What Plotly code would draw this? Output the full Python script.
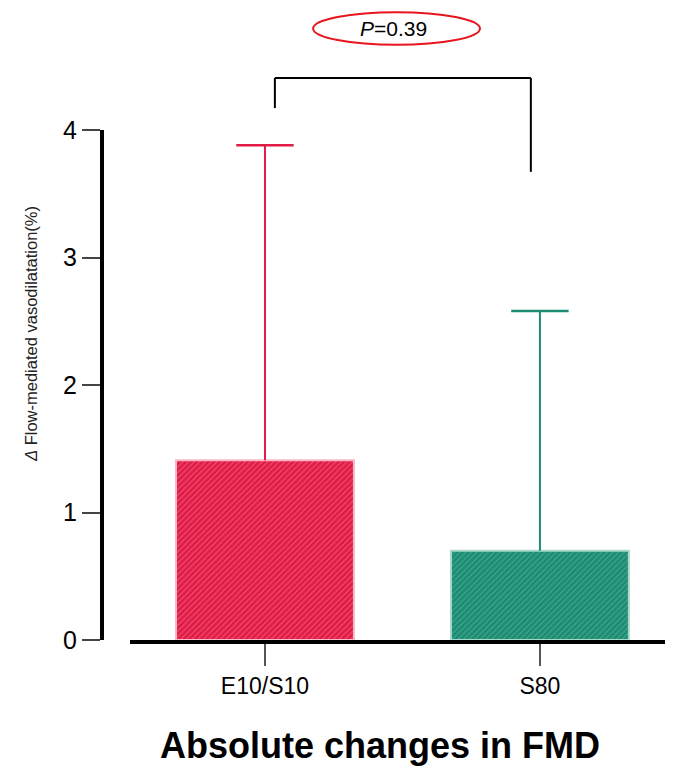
import plotly.graph_objects as go

# data
groups = ['E10/S10', 'S80']
fmd_change = [1.41, 0.70]
fmd_sd = [2.47, 1.88]
bar_colors = ['#E11B45', '#1B8C72']
stripe_colors = ['#EE5A78', '#4BAA93']
edge_colors = ['#F7B7C4', '#A6D9CA']
p_text = '<i>P</i>=0.39'

fig = go.Figure()
for i in range(len(groups)):
    fig.add_trace(go.Bar(
        x=[groups[i]], y=[fmd_change[i]], width=0.647,
        marker=dict(color=bar_colors[i],
                    line=dict(color=edge_colors[i], width=2),
                    pattern=dict(shape='/', size=4, solidity=0.25,
                                 fgcolor=stripe_colors[i], bgcolor=bar_colors[i],
                                 fillmode='replace')),
        error_y=dict(type='data', array=[fmd_sd[i]], arrayminus=[0], symmetric=False,
                     color=bar_colors[i], thickness=2, width=0),
        showlegend=False))
    # cap only on the upper end of the error bar
    fig.add_trace(go.Scatter(
        x=[groups[i]], y=[fmd_change[i] + fmd_sd[i]], mode='markers',
        marker=dict(symbol='line-ew', size=41, line=dict(color=bar_colors[i], width=2.5)),
        showlegend=False, hoverinfo='skip'))

# significance bracket and p-value
bk = dict(type='line', xref='x', yref='paper', line=dict(color='black', width=2))
fig.add_shape(x0=0.036, x1=0.967, y0=1.102, y1=1.102, **bk)
fig.add_shape(x0=0.036, x1=0.036, y0=1.102, y1=1.043, **bk)
fig.add_shape(x0=0.967, x1=0.967, y0=1.102, y1=0.918, **bk)
fig.add_shape(type='circle', xref='x', yref='paper', x0=0.175, x1=0.782, y0=1.167, y1=1.231,
              line=dict(color='#E8141E', width=2))
fig.add_annotation(text=p_text, xref='x', yref='paper', x=0.466, y=1.199, yanchor='middle',
                   showarrow=False, font=dict(size=21, color='black'))

fig.add_annotation(text='<i>Δ</i> Flow-mediated vasodilatation(%)', textangle=-90,
                   xref='paper', yref='paper', x=-0.1436, y=0.60, showarrow=False,
                   font=dict(size=16.5, color='#222'))
fig.add_annotation(text='<b>Absolute changes in FMD</b>', xref='paper', yref='paper',
                   x=0.487, y=-0.206, yanchor='middle', showarrow=False,
                   font=dict(size=36, color='black'))

# page body adds 8px margin, so the figure is 8px smaller and shifted
fig.update_layout(
    width=665, height=765,
    margin=dict(l=94, r=0, t=122, b=133),
    plot_bgcolor='white', paper_bgcolor='white',
    font=dict(family='Liberation Sans, Arial', color='black'),
    xaxis=dict(domain=[0.049, 1], range=[-0.491, 1.484], anchor='y',
               showline=True, linecolor='black', linewidth=4,
               ticks='outside', ticklen=22, tickwidth=2, tickcolor='#555',
               tickfont=dict(size=23), showgrid=False, zeroline=False),
    yaxis=dict(range=[0, 4], anchor='free', position=0, tickvals=[0, 1, 2, 3, 4],
               showline=True, linecolor='black', linewidth=4,
               ticks='outside', ticklen=18, tickwidth=2, tickcolor='#444',
               tickfont=dict(size=25), showgrid=False, zeroline=False),
)

fig.write_html('out.html')
